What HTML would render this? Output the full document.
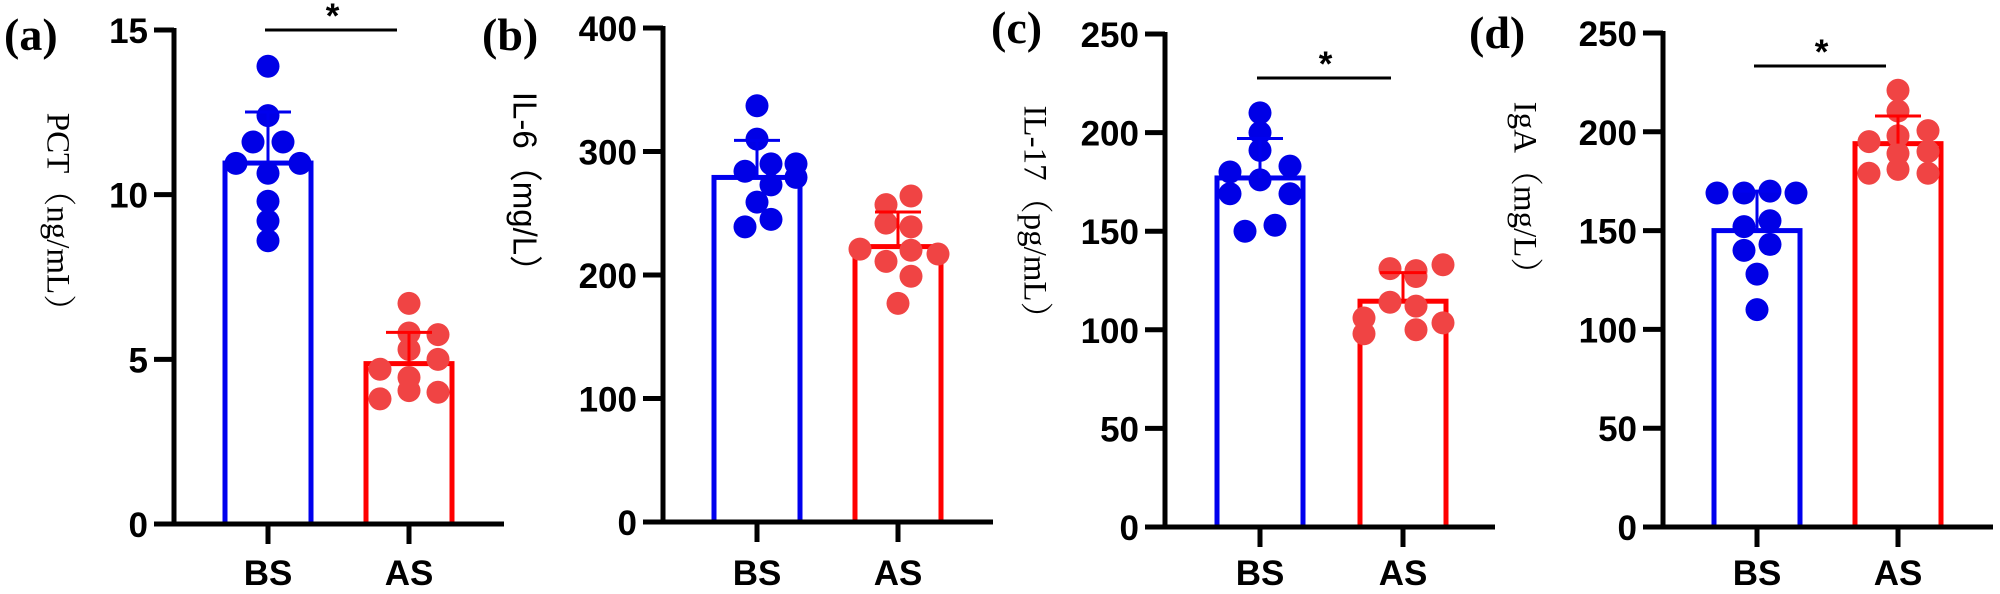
<!DOCTYPE html>
<html><head><meta charset="utf-8"><style>
body{margin:0;background:#fff;}
svg{display:block;}
.tk{font-family:"Liberation Sans",Arial,sans-serif;font-weight:bold;font-size:35px;fill:#000;}
.pl{font-family:"Liberation Serif",serif;font-weight:bold;font-size:46px;fill:#000;}
.yl{font-size:33px;fill:#000;}
</style></head><body>
<svg id="fig" width="2000" height="594" viewBox="0 0 2000 594" xmlns="http://www.w3.org/2000/svg"></svg>
<script>
const categories = ["BS", "AS"];
const panelLetters = ["(a)", "(b)", "(c)", "(d)"];
const yTitles = ["PCT（ng/mL）", "IL-6（mg/L）", "IL-17（pg/mL）", "IgA（mg/L）"];
const yMax = [15, 400, 250, 250];
const yTicksA = [0, 5, 10, 15];
const yTicksB = [0, 100, 200, 300, 400];
const yTicksC = [0, 50, 100, 150, 200, 250];
const yTicksD = [0, 50, 100, 150, 200, 250];
const meanA = [10.96, 4.87];
const sdA = [1.55, 0.95];
const bsA = [13.9, 12.4, 11.6, 11.6, 10.95, 10.95, 10.65, 9.8, 9.2, 8.6];
const asA = [6.7, 5.8, 5.75, 5.3, 5.0, 4.7, 4.45, 4.05, 4.0, 3.8];
const meanB = [279, 223];
const sdB = [30, 28];
const bsB = [337, 310, 290, 290, 284, 279, 273, 259, 245, 239];
const asB = [264, 257, 242, 239, 221, 220, 217, 211, 199, 177];
const meanC = [177, 114.5];
const sdC = [20, 14.5];
const bsC = [210, 200, 191, 183, 180, 176, 169, 169, 153, 150];
const asC = [133, 131, 130, 127, 114, 112, 106, 103.5, 100, 98];
const meanD = [150, 194];
const sdD = [20, 14];
const bsD = [169, 169, 170, 169, 155, 152, 143, 140, 128, 110];
const asD = [221, 210.5, 200.6, 198, 195, 190, 189, 181, 179, 179];
const sigFlags = [true, false, true, true];

// layout (not data)
const layout = [
  {ax:174, y0:524, yTop:30, bs:268, as:409, jb:[0,0,-15,15,-32,32,0,0,0,0], ja:[0,0,29,0,29,-29,0,0,29,-29], sigY:30, lab:[4,50], tx:55, ty:220, serif:true},
  {ax:663, y0:522, yTop:28, bs:757, as:898, jb:[0,0,14,39,-12,39,14,0,14,-12], ja:[13,-12,-12,13,-38,13,40,-12,13,0], lab:[482,50], tx:522, ty:190, serif:false},
  {ax:1165, y0:527, yTop:34, bs:1260, as:1403, jb:[0,0,0,30,-30,0,-30,30,15,-15], ja:[40,-13,13,13,-13,13,-39,40,13,-39], sigY:78, lab:[991,43], tx:1032, ty:220, serif:true},
  {ax:1663, y0:527, yTop:33, bs:1757, as:1898, jb:[-40,-13,13,39,13,-13,13,-13,0,0], ja:[0,0,30,0,-29,30,0,0,-29,30], sigY:66, lab:[1469,48], tx:1522, ty:196, serif:true}
];
const ticksAll=[yTicksA,yTicksB,yTicksC,yTicksD];
const meansAll=[meanA,meanB,meanC,meanD];
const sdAll=[sdA,sdB,sdC,sdD];
const ptsAll=[[bsA,asA],[bsB,asB],[bsC,asC],[bsD,asD]];
const NS="http://www.w3.org/2000/svg";
const svg=document.getElementById('fig');
function mk(tag,attrs,parent){const e=document.createElementNS(NS,tag);for(const k in attrs)e.setAttribute(k,attrs[k]);(parent||svg).appendChild(e);return e;}
const barColors=["#0000ee","#ff0000"], dotColors=["#0000e6","#f04444"];
for(let p=0;p<4;p++){
  const L=layout[p];
  const g=mk('g',{});
  
  
  const y=v=>L.y0-(v/yMax[p])*(L.y0-L.yTop);
  const xs=[L.bs,L.as];
  const lt=mk('text',{x:L.lab[0],y:L.lab[1],class:'pl'},g);lt.textContent=panelLetters[p];
  
  
  const yt=mk('text',{x:0,y:0,class:'yl','text-anchor':'middle','dominant-baseline':'middle',transform:`translate(${L.tx},${L.ty}) rotate(90)`,'font-family':L.serif?'"Liberation Serif","Noto Serif CJK SC",serif':'"Liberation Sans","Noto Sans CJK SC",sans-serif'},g);
  yt.textContent=yTitles[p];
  
  
  for(let i=0;i<2;i++){
    const b=mk('rect',{x:xs[i]-43,y:y(meansAll[p][i]),width:86,height:L.y0-y(meansAll[p][i]),fill:'none',stroke:barColors[i],'stroke-width':5},g);
    
    
  }
  for(let i=0;i<2;i++){
    const J=i?L.ja:L.jb;
    ptsAll[p][i].forEach((v,k)=>{
      const c=mk('circle',{cx:xs[i]+J[k],cy:y(v),r:11.5,fill:dotColors[i]},g);
      
      
    });
  }
  for(let i=0;i<2;i++){
    const m=meansAll[p][i],s=sdAll[p][i];
    const e=mk('path',{d:`M${xs[i]} ${y(m)}V${y(m+s)}M${xs[i]-23} ${y(m+s)}H${xs[i]+23}`,stroke:barColors[i],'stroke-width':3,fill:'none'},g);
    
    
  }
  const ax=mk('path',{d:`M${L.ax} ${L.yTop-2}V${L.y0}M${L.ax-20} ${L.y0}H${L.ax+330}`,stroke:'#000','stroke-width':5,fill:'none'},g);
  
  
  ticksAll[p].forEach(t=>{
    const tm=mk('line',{x1:L.ax-20,x2:L.ax,y1:y(t),y2:y(t),stroke:'#000','stroke-width':5},g);
    
    
    const tl=mk('text',{x:L.ax-26,y:y(t)+13,class:'tk','text-anchor':'end'},g);tl.textContent=t;
    
    
  });
  categories.forEach((c,i)=>{
    const tm=mk('line',{x1:xs[i],x2:xs[i],y1:L.y0,y2:L.y0+20,stroke:'#000','stroke-width':5},g);
    
    
    const tl=mk('text',{x:xs[i],y:585,class:'tk','text-anchor':'middle'},g);tl.textContent=c;
    
    
  });
  if(sigFlags[p]){
    const sl=mk('line',{x1:L.bs-3,x2:L.as-12,y1:L.sigY,y2:L.sigY,stroke:'#000','stroke-width':3},g);
    
    
    const st=mk('text',{x:(L.bs+L.as)/2-6,y:L.sigY-2,class:'tk','text-anchor':'middle','font-size':'30px'},g);st.textContent='*';
    
    
  }
}
</script>
</body></html>
